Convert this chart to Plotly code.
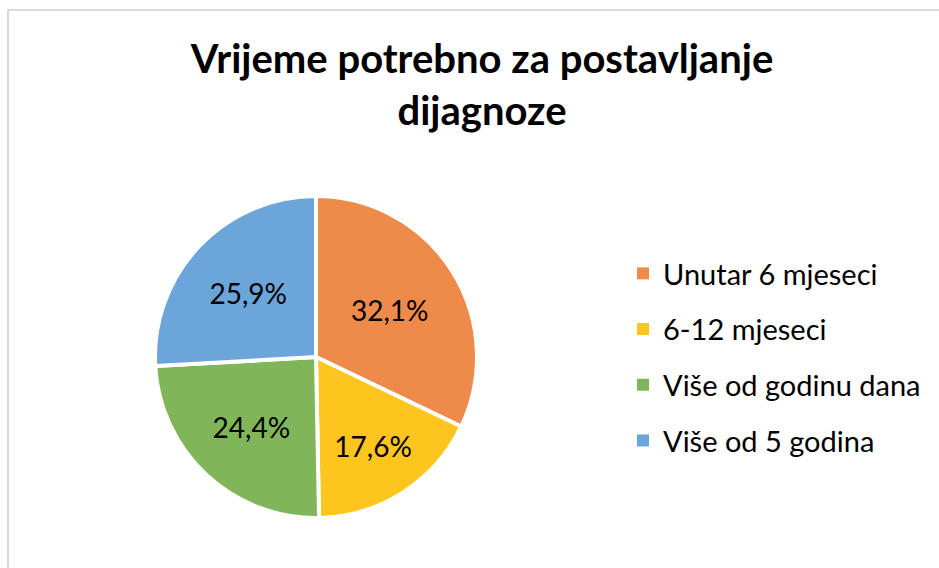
import plotly.graph_objects as go

labels = ["Unutar 6 mjeseci", "6-12 mjeseci", "Više od godinu dana", "Više od 5 godina"]
values = [32.1, 17.6, 24.4, 25.9]
colors = ["#EE8B4A", "#FDC51D", "#80B55A", "#6BA5D9"]
title_text = "Vrijeme potrebno za postavljanje<br>dijagnoze"

W, H = 939, 568
cx, cy, r = 316, 357, 161

fig = go.Figure()
fig.add_trace(go.Pie(
    labels=labels, values=values, sort=False, direction="clockwise", rotation=0,
    marker=dict(colors=colors, line=dict(color="white", width=4)),
    texttemplate="%{percent:.1%}", textposition="inside", insidetextorientation="horizontal",
    textfont=dict(family="Lato", size=28, color="black"),
    showlegend=False, hoverinfo="label+percent",
    domain=dict(x=[(cx - r) / W, (cx + r) / W], y=[(H - cy - r) / H, (H - cy + r) / H]),
))
for lab, col in zip(labels, colors):
    fig.add_trace(go.Scatter(
        x=[None], y=[None], mode="markers", name=lab, legendgroup=lab,
        marker=dict(symbol="square", size=12, color=col),
    ))

fig.update_layout(
    width=W, height=H, margin=dict(l=0, r=0, t=0, b=0),
    paper_bgcolor="white", plot_bgcolor="white",
    separators=",.",
    title=dict(text=title_text, x=482 / W, xanchor="center", y=1 - 73 / H, yanchor="middle",
               font=dict(family="Lato", size=40, color="black", weight="bold")),
    xaxis=dict(visible=False), yaxis=dict(visible=False),
    legend=dict(x=623 / W, xanchor="left", y=1 - 357 / H, yanchor="middle",
                font=dict(family="Lato", size=29, color="black"),
                tracegroupgap=15, itemsizing="constant", bgcolor="rgba(0,0,0,0)"),
    shapes=[dict(type="rect", xref="paper", yref="paper", x0=8 / W, x1=1.02, y0=-0.02, y1=1 - 10 / H,
                 line=dict(color="#D9D9D9", width=2), fillcolor="rgba(0,0,0,0)", layer="below")],
)
fig.write_html("out.html", config={"displayModeBar": False},
               post_script="document.body.style.margin='0';document.body.style.overflow='hidden';")
